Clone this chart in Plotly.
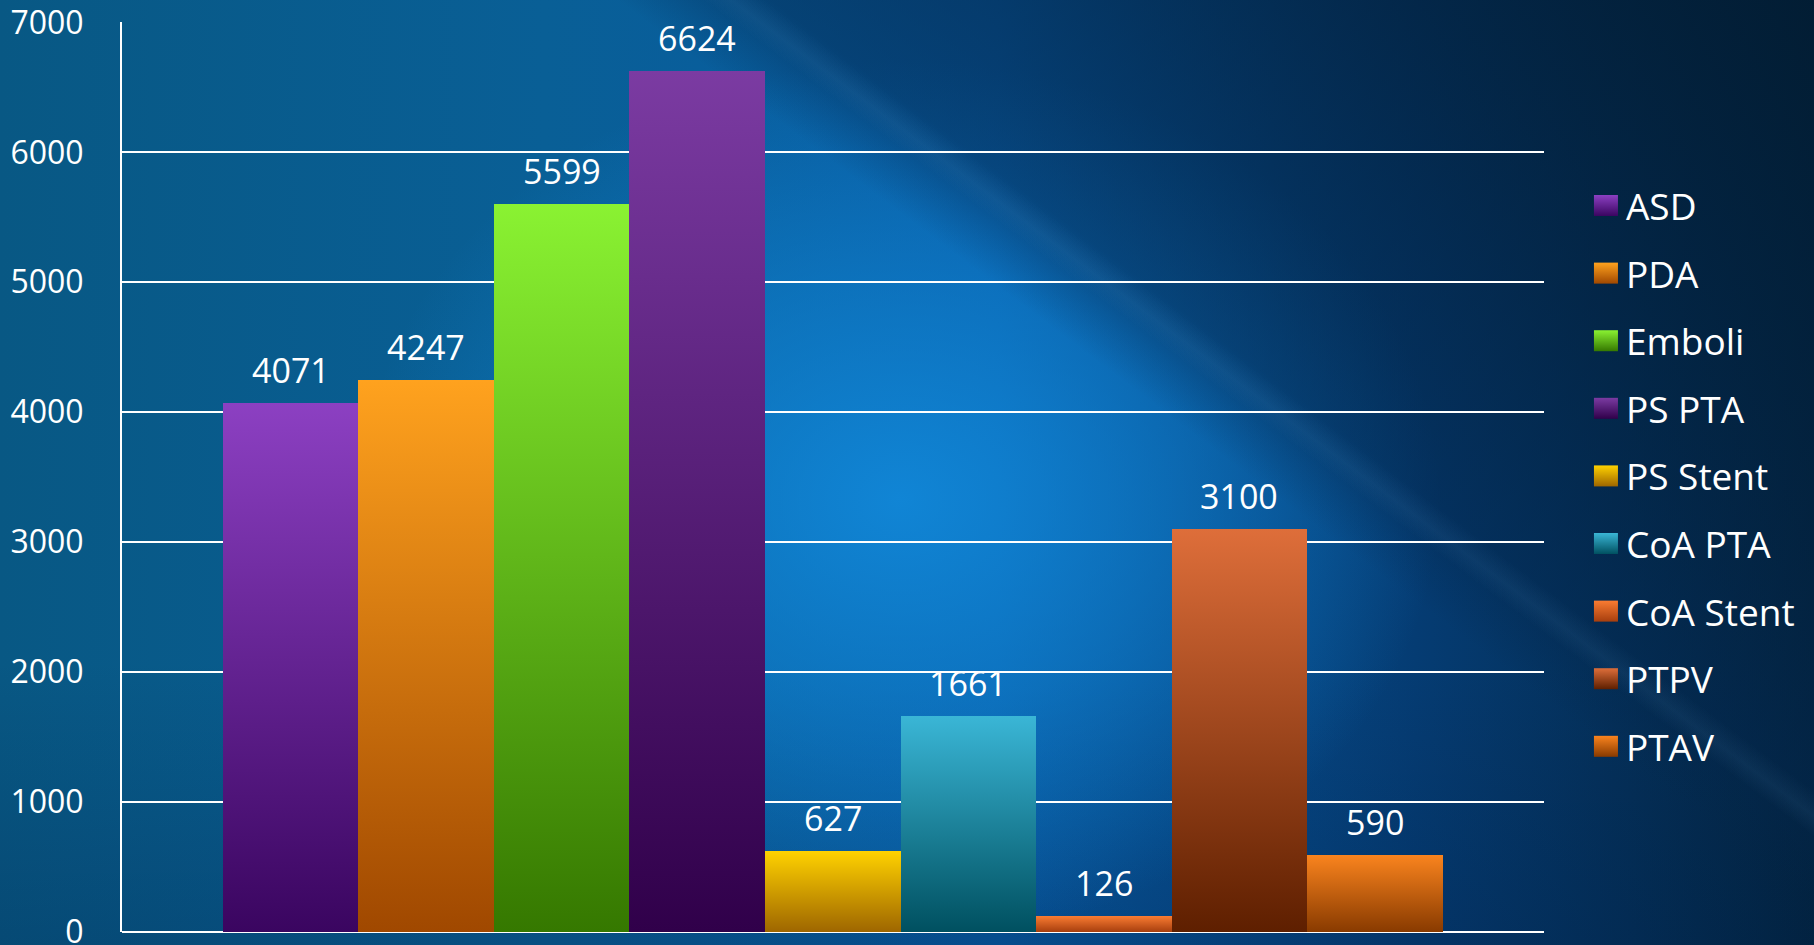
import json
import plotly.graph_objects as go

# Procedure counts per intervention type
categories = ["ASD", "PDA", "Emboli", "PS PTA", "PS Stent", "CoA PTA", "CoA Stent", "PTPV", "PTAV"]
counts = [4071, 4247, 5599, 6624, 627, 1661, 126, 3100, 590]
y_ticks = [0, 1000, 2000, 3000, 4000, 5000, 6000, 7000]

# Vertical fill per bar: (top colour, bottom colour), plus a flat fallback colour
bar_top = ["#8c40c2", "#ffa21e", "#8af232", "#7b3ba2", "#ffd200", "#3ab6d6", "#fa7c32", "#de6e3a", "#fa841e"]
bar_bottom = ["#3a0560", "#a04800", "#357800", "#30004a", "#9e6600", "#005060", "#a63e0e", "#5e1f00", "#883a00"]
bar_flat = ["#5e1f90", "#e07010", "#5cb818", "#52207a", "#e0a000", "#15869e", "#d85a20", "#a44818", "#d06010"]

FONT = "Open Sans, Noto Sans, sans-serif"

fig = go.Figure()
for i, (name, val) in enumerate(zip(categories, counts)):
    fig.add_trace(go.Bar(
        x=[name], y=[val], name=name, legendgroup=name,
        marker=dict(color=bar_flat[i], line=dict(width=0)),
        hoverinfo="skip",
    ))

# Value labels above each bar
for name, val in zip(categories, counts):
    fig.add_annotation(
        x=name, y=val, text=str(val), showarrow=False,
        xanchor="center", yanchor="bottom", yshift=8,
        font=dict(family=FONT, size=34, color="white"),
    )

fig.update_layout(
    width=1814, height=945,
    margin=dict(l=122, r=270, t=22, b=13, autoexpand=False),
    paper_bgcolor="#0a5a90",
    plot_bgcolor="rgba(0,0,0,0)",
    barmode="overlay", bargap=0,
    showlegend=True,
    legend=dict(
        x=1.0295, xanchor="left", y=0.8319, yanchor="top",
        font=dict(family=FONT, size=37, color="white"),
        bgcolor="rgba(0,0,0,0)", borderwidth=0,
        traceorder="grouped", tracegroupgap=16.5,
    ),
    xaxis=dict(
        type="category", categoryorder="array", categoryarray=categories,
        range=[-1.243, 9.247], showticklabels=False, ticks="",
        showgrid=False, zeroline=False, showline=False, fixedrange=True,
    ),
    yaxis=dict(
        range=[0, 7003], tickvals=y_ticks, ticktext=[str(t) for t in y_ticks],
        showgrid=True, gridcolor="white", gridwidth=2,
        showline=True, linecolor="white", linewidth=2,
        zeroline=True, zerolinecolor="white", zerolinewidth=2,
        ticks="", ticklabelstandoff=30, ticklabeloverflow="allow",
        tickfont=dict(family=FONT, size=32, color="white"),
        layer="below traces", fixedrange=True, automargin=False,
    ),
)

background = ", ".join([
    "linear-gradient(37deg, rgba(0,0,0,0) 63.8%, rgba(120,190,240,0.07) 64.7%, rgba(0,0,0,0) 65.8%)",
    "linear-gradient(37deg, rgba(2,30,60,0) 61%, rgba(3,38,75,0.5) 66%, rgba(2,28,50,0.85) 100%)",
    "radial-gradient(ellipse 540px 440px at 900px 500px, rgba(18,140,222,0.85) 0%, rgba(18,140,222,0.45) 50%, rgba(18,140,222,0) 100%)",
    "linear-gradient(to bottom, rgba(0,0,0,0) 70%, rgba(0,30,70,0.25) 100%)",
    "linear-gradient(to right, rgb(8,88,132) 0%, rgb(9,95,150) 30%, rgb(8,92,165) 55%, rgb(5,60,115) 78%, rgb(3,36,64) 100%)",
])

post_js = """
(function(){
  var gd = document.getElementById('{plot_id}');
  if (!gd) return;
  var NS = 'http://www.w3.org/2000/svg';
  var tops = TOPS, bottoms = BOTTOMS;
  function idx(el, k) {
    try { return el.__data__[0].trace.index; } catch (e) { return k; }
  }
  function paint() {
    var svg = gd.querySelector('svg.main-svg');
    if (!svg) return;
    var defs = svg.querySelector('defs');
    if (!defs) { defs = document.createElementNS(NS, 'defs'); svg.insertBefore(defs, svg.firstChild); }
    for (var i = 0; i < tops.length; i++) {
      if (document.getElementById('barfade' + i)) continue;
      var g = document.createElementNS(NS, 'linearGradient');
      g.setAttribute('id', 'barfade' + i);
      g.setAttribute('x1', '0'); g.setAttribute('y1', '0');
      g.setAttribute('x2', '0'); g.setAttribute('y2', '1');
      [[0, tops[i]], [1, bottoms[i]]].forEach(function(p){
        var st = document.createElementNS(NS, 'stop');
        st.setAttribute('offset', p[0]);
        st.setAttribute('stop-color', p[1]);
        g.appendChild(st);
      });
      defs.appendChild(g);
    }
    gd.querySelectorAll('.barlayer .trace').forEach(function(tr, k){
      var n = idx(tr, k);
      tr.querySelectorAll('path').forEach(function(p){ p.style.fill = 'url(#barfade' + n + ')'; });
    });
    gd.querySelectorAll('.legend .traces').forEach(function(tr, k){
      var n = idx(tr, k);
      tr.querySelectorAll('.legendpoints path').forEach(function(p){
        p.setAttribute('d', 'M12,10.5H-12V-10.5H12Z');
        p.style.fill = 'url(#barfade' + n + ')';
      });
    });
    svg.style.background = BG;
  }
  paint();
  if (gd.on) gd.on('plotly_afterplot', paint);
  requestAnimationFrame(paint);
  [0, 30, 100, 300, 800].forEach(function(t){ setTimeout(paint, t); });
})();
""".replace("TOPS", json.dumps(bar_top)).replace("BOTTOMS", json.dumps(bar_bottom)).replace("BG", json.dumps(background))

fig.write_html("out.html", post_script=post_js)
